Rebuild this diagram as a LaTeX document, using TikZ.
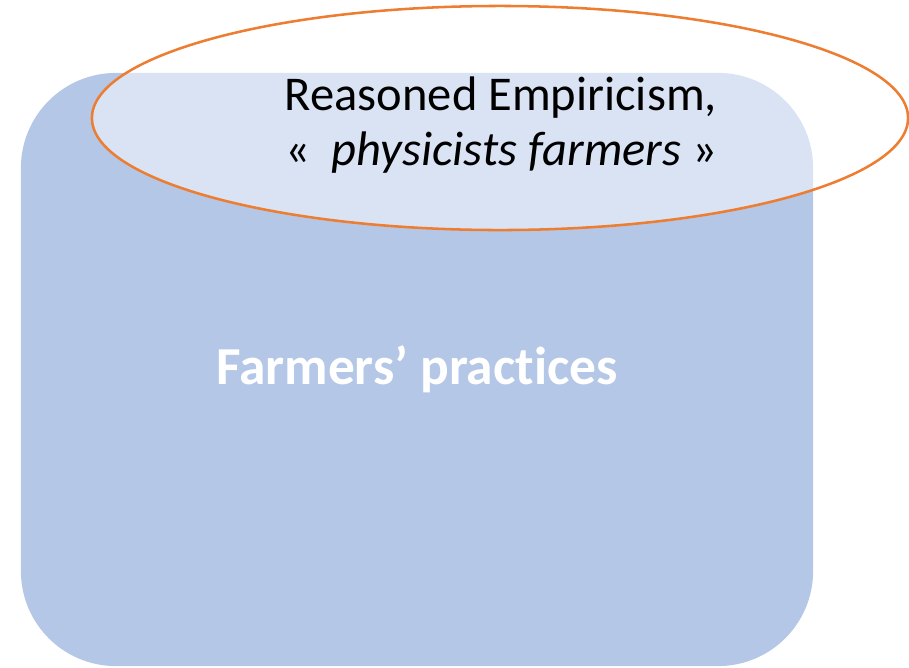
\documentclass[tikz,border=0pt]{standalone}
\usepackage{fontspec}
\setmainfont{Carlito}[Ligatures=NoCommon]
\usetikzlibrary{shapes.geometric, positioning}

\definecolor{practblue}{HTML}{B4C7E7}
\definecolor{empirorange}{HTML}{ED7D31}

\begin{document}
\begin{tikzpicture}[x=0.025cm, y=-0.025cm]
			\tikzset {every node/.style={inner sep=0pt}, practbox/.style={rectangle, rounded corners=2.375cm, fill=practblue, minimum width=19.8cm, minimum height=14.825cm, text=white, font=\fontsize{38}{44}\selectfont\bfseries}, empirring/.style={ellipse, draw=empirorange, line width=1.8pt, fill=white, fill opacity=0.5, minimum width=20.4cm, minimum height=5.6cm}, empirtext/.style={align=center, font=\fontsize{34.5}{39}\selectfont} }

			\useasboundingbox (0,0) rectangle (909,667);

			\node[practbox]		(P)	at (417,369.5)	{Farmers’ practices};
			\node[empirring]	(E)	at (500,118)	{};
			\node[empirtext]	(T)	at (501,125)	{Reasoned Empiricism,\\«~~\textit{physicists farmers} »};

		\end{tikzpicture}
\end{document}
